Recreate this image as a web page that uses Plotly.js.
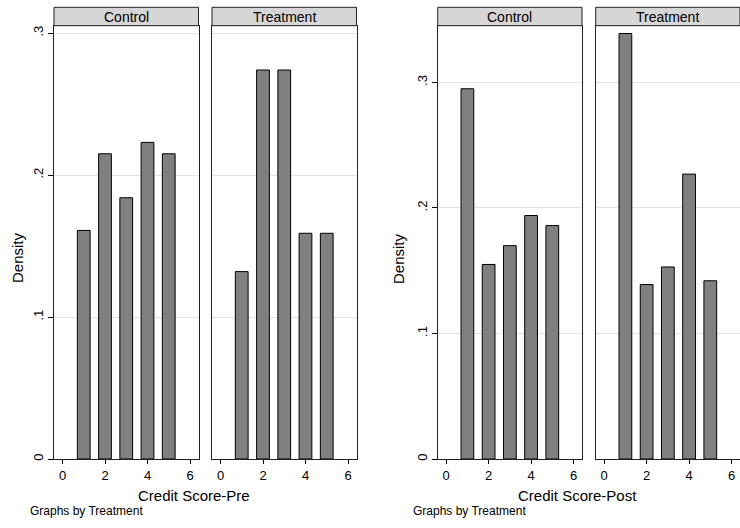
<!DOCTYPE html>
<html>
<head>
<meta charset="utf-8">
<script src="https://cdn.plot.ly/plotly-3.0.1.min.js"></script>
<style>html,body{margin:0;padding:0;background:#fff;}#chart{width:740px;height:528px;}</style>
</head>
<body>
<div id="chart"></div>
<script>
// Data
const scores = [1, 2, 3, 4, 5];
const preControl = [0.161, 0.215, 0.184, 0.223, 0.215];
const preTreatment = [0.132, 0.274, 0.274, 0.159, 0.159];
const postControl = [0.295, 0.155, 0.170, 0.194, 0.186];
const postTreatment = [0.339, 0.139, 0.153, 0.227, 0.142];
const panelLabels = ["Control", "Treatment", "Control", "Treatment"];
const xTicks = [0, 2, 4, 6];
const preYTicks = [0, 0.1, 0.2, 0.3];
const preYTickText = ["0", ".1", ".2", ".3"];
const postYTicks = [0, 0.1, 0.2, 0.3];
const postYTickText = ["0", ".1", ".2", ".3"];

const W = 740, H = 528;
const px = v => v / W;
const py = v => (H - v) / H;
const FONT = "Liberation Sans, Arial, Helvetica, sans-serif";

const panelsX = [[54, 198.5], [212, 356.5], [437.7, 582], [595.7, 740]];
const plotTop = 26, plotBot = 459;
const headTop = 7.3, headBot = 25.7;

const series = [preControl, preTreatment, postControl, postTreatment];
const traces = series.map((vals, i) => ({
  type: "bar",
  x: scores,
  y: vals,
  width: 0.6,
  xaxis: i === 0 ? "x" : "x" + (i + 1),
  yaxis: i === 0 ? "y" : "y" + (i + 1),
  marker: {color: "#808080", line: {color: "#000000", width: 1}},
  hoverinfo: "x+y",
  showlegend: false
}));

const layout = {
  width: W, height: H,
  margin: {l: 0, r: 0, t: 0, b: 0},
  paper_bgcolor: "#ffffff",
  plot_bgcolor: "#ffffff",
  font: {family: FONT, color: "#000000", size: 13},
  bargap: 0,
  shapes: [],
  annotations: []
};

for (let i = 0; i < 4; i++) {
  const sfx = i === 0 ? "" : String(i + 1);
  const isPost = i >= 2;
  layout["xaxis" + sfx] = {
    domain: [px(panelsX[i][0]), px(panelsX[i][1])],
    anchor: "y" + sfx,
    range: [-0.4, 6.4],
    tickvals: xTicks,
    ticktext: xTicks.map(String),
    ticks: "outside", ticklen: 4, tickcolor: "#000", tickwidth: 1,
    showline: true, linecolor: "#222", linewidth: 1, mirror: true,
    showgrid: false, zeroline: false,
    tickfont: {family: FONT, size: 13, color: "#000"},
    fixedrange: true
  };
  const yax = {
    domain: [py(plotBot), py(plotTop)],
    anchor: "x" + sfx,
    range: isPost ? [0, 0.345] : [0, 0.305],
    tickvals: isPost ? postYTicks : preYTicks,
    ticktext: isPost ? postYTickText : preYTickText,
    showgrid: true, gridcolor: "#e3e3e3", gridwidth: 1,
    showline: true, linecolor: "#222", linewidth: 1, mirror: true,
    zeroline: false,
    fixedrange: true
  };
  if (i === 0 || i === 2) {
    Object.assign(yax, {
      ticks: "outside", ticklen: 5, tickcolor: "#000", tickwidth: 1,
      tickangle: -90, showticklabels: true,
      tickfont: {family: FONT, size: 13, color: "#000"}
    });
  } else {
    Object.assign(yax, {ticks: "", showticklabels: false});
  }
  layout["yaxis" + sfx] = yax;

  // panel header
  layout.shapes.push({
    type: "rect", xref: "paper", yref: "paper",
    x0: px(panelsX[i][0]), x1: px(panelsX[i][1]),
    y0: py(headBot), y1: py(headTop),
    fillcolor: "#d6d6d6", line: {color: "#222", width: 1}
  });
  layout.annotations.push({
    xref: "paper", yref: "paper",
    x: px((panelsX[i][0] + panelsX[i][1]) / 2), y: py((headTop + headBot) / 2),
    text: panelLabels[i], showarrow: false,
    xanchor: "center", yanchor: "middle",
    font: {family: FONT, size: 14, color: "#000"}
  });
}

// Axis titles & notes
const addText = (x, y, text, size, opts) => layout.annotations.push(Object.assign({
  xref: "paper", yref: "paper", x: px(x), y: py(y), text: text, showarrow: false,
  xanchor: "center", yanchor: "middle", font: {family: FONT, size: size, color: "#000"}
}, opts || {}));

addText(17, 258, "Density", 15, {textangle: -90});
addText(398, 258, "Density", 15, {textangle: -90});
addText(194, 495, "Credit Score-Pre", 15);
addText(577, 495, "Credit Score-Post", 15);
addText(28, 511, "Graphs by Treatment", 12, {xanchor: "left"});
addText(410.5, 511, "Graphs by Treatment", 12, {xanchor: "left"});

Plotly.newPlot("chart", traces, layout, {displayModeBar: false, staticPlot: true});
</script>
</body>
</html>
